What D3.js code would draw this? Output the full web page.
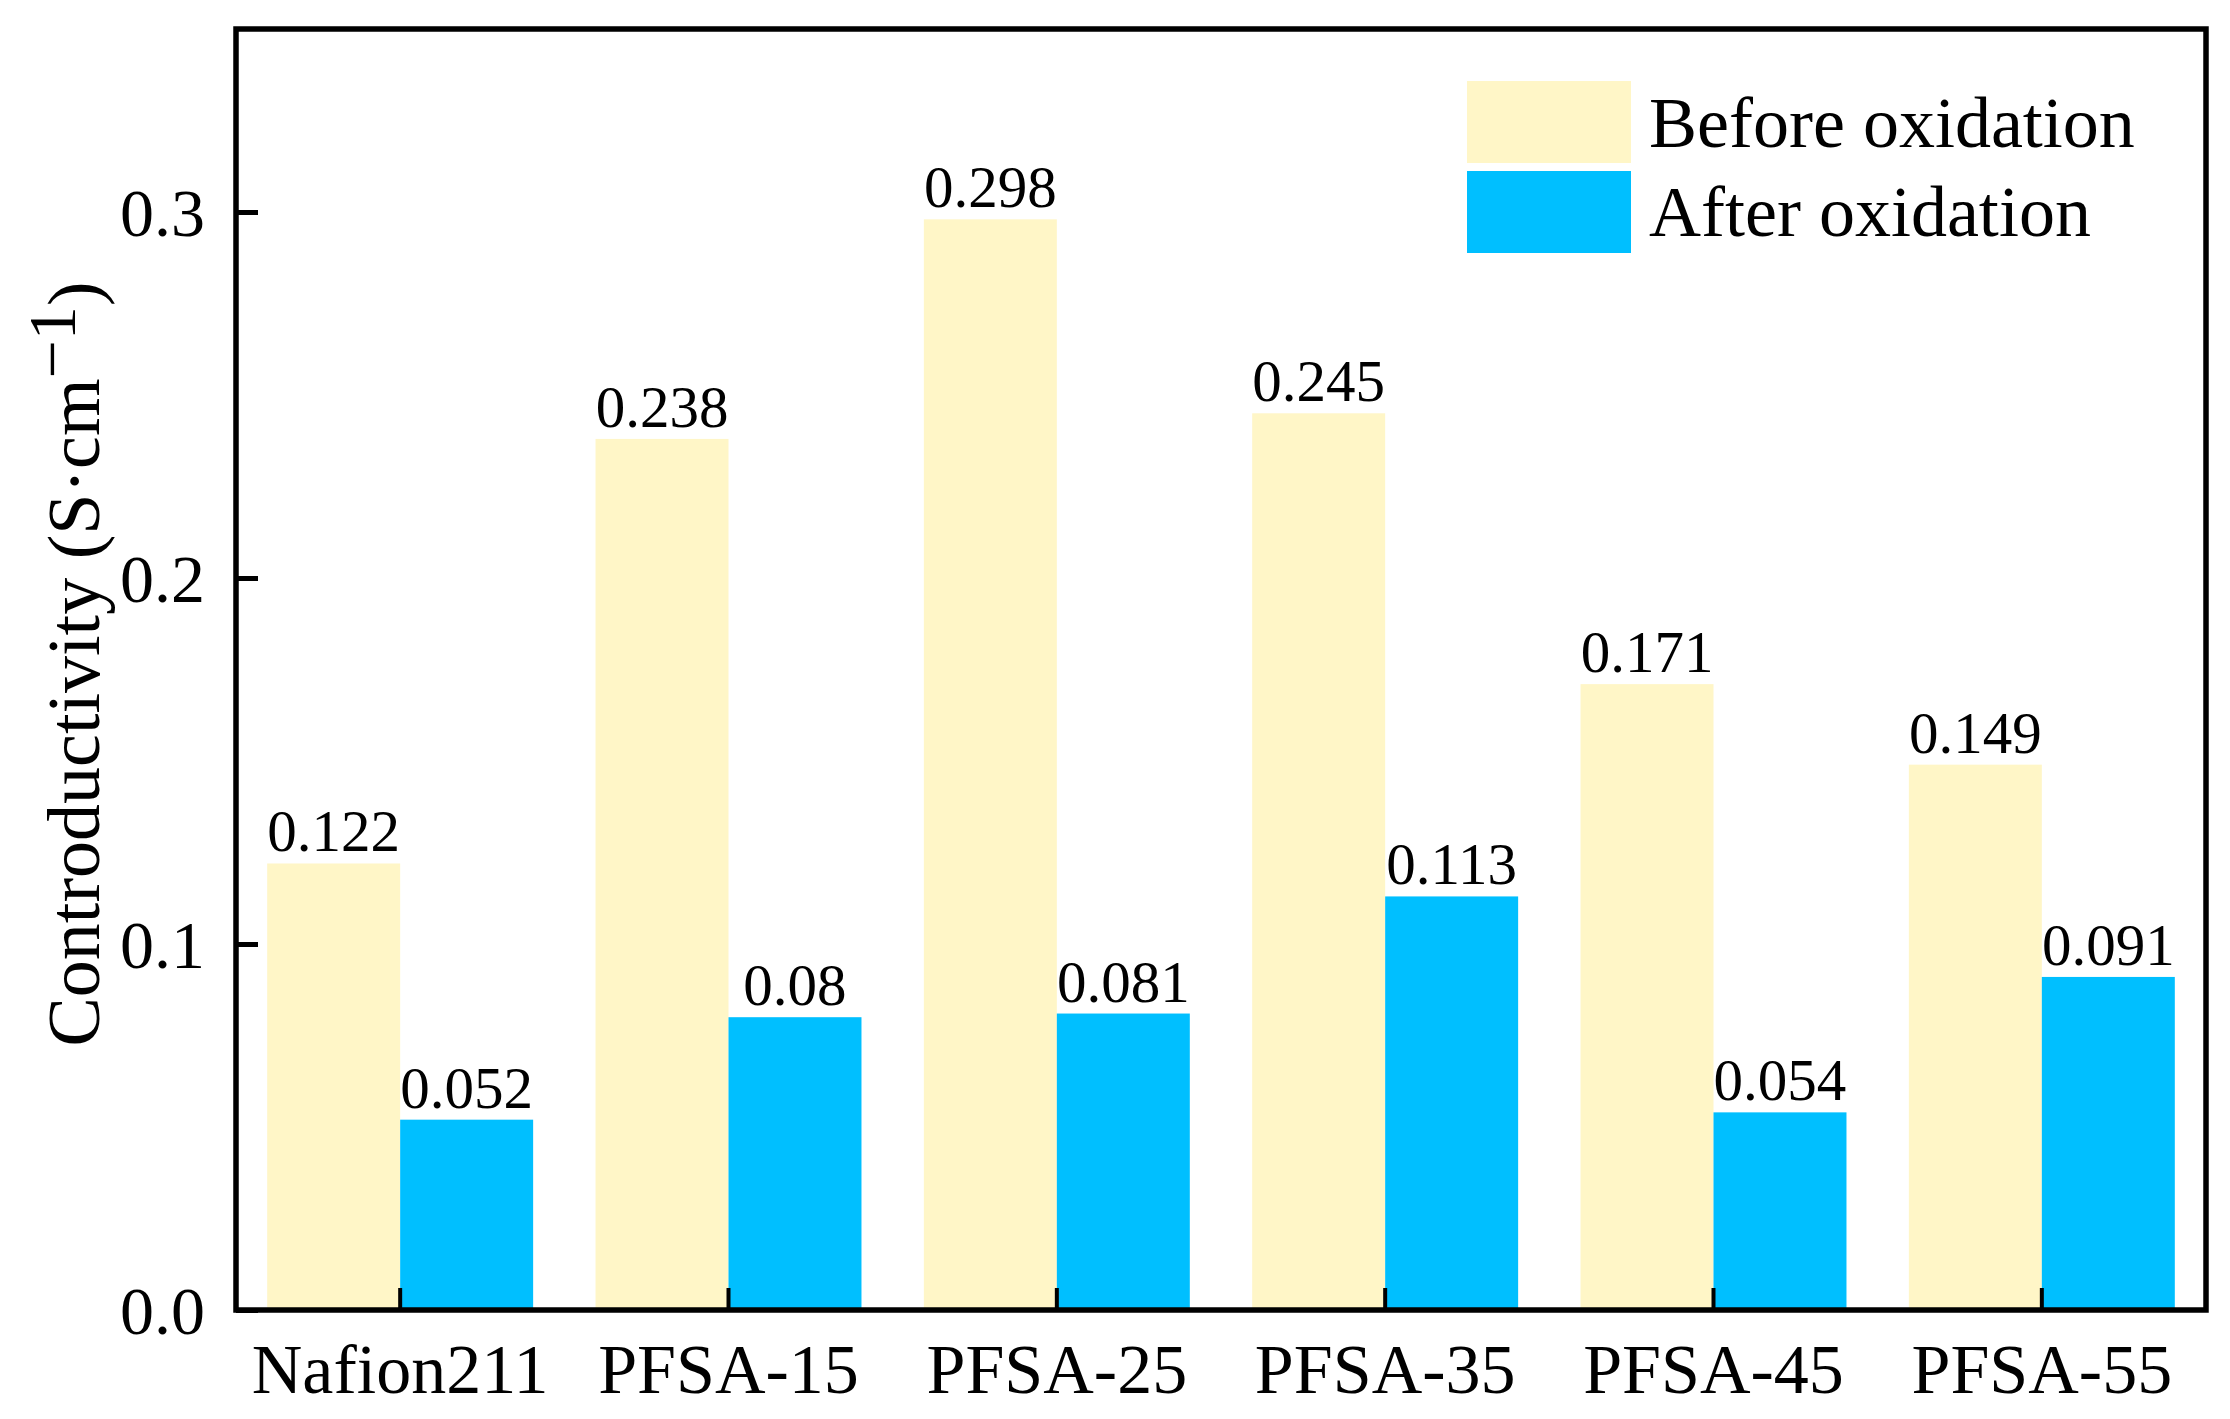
<!DOCTYPE html>
<html>
<head>
<meta charset="utf-8">
<script src="https://cdn.jsdelivr.net/npm/d3@7"></script>
<style>
  html, body { margin: 0; padding: 0; background: #fff; }
  text { font-family: "Liberation Serif", "Times New Roman", serif; fill: #000; }
</style>
</head>
<body>
<svg id="chart" width="2230" height="1419"></svg>
<script>
const categories = ["Nafion211", "PFSA-15", "PFSA-25", "PFSA-35", "PFSA-45", "PFSA-55"];
const beforeValues = [0.122, 0.238, 0.298, 0.245, 0.171, 0.149];
const afterValues = [0.052, 0.08, 0.081, 0.113, 0.054, 0.091];
const seriesNames = ["Before oxidation", "After oxidation"];
const yTicks = [0.0, 0.1, 0.2, 0.3];

const colors = ["#FFF6C7", "#00BFFF"];

const margin = { top: 29, right: 24, bottom: 109, left: 236 };
const width = 2230 - margin.left - margin.right;
const height = 1419 - margin.top - margin.bottom;

const svg = d3.select("#chart");
const g = svg.append("g")
  .attr("transform", "translate(" + margin.left + "," + margin.top + ")");

const x = d3.scaleBand()
  .domain(categories)
  .range([0, width])
  .padding(0);

const y = d3.scaleLinear()
  .domain([0, 0.35])
  .range([height, 0]);

const barW = x.bandwidth() * 0.405;

const rows = categories.map((c, i) => ({ cat: c, before: beforeValues[i], after: afterValues[i] }));

// bars
const series = [
  { key: "before", offset: -barW, color: colors[0] },
  { key: "after", offset: 0, color: colors[1] }
];

series.forEach(s => {
  g.selectAll("rect." + s.key)
    .data(rows)
    .enter()
    .append("rect")
    .attr("class", s.key)
    .attr("x", d => x(d.cat) + x.bandwidth() / 2 + s.offset)
    .attr("y", d => y(d[s.key]))
    .attr("width", barW)
    .attr("height", d => height - y(d[s.key]))
    .attr("fill", s.color);

  g.selectAll("text." + s.key)
    .data(rows)
    .enter()
    .append("text")
    .attr("class", s.key)
    .attr("x", d => x(d.cat) + x.bandwidth() / 2 + s.offset + barW / 2)
    .attr("y", d => y(d[s.key]) - 12)
    .attr("text-anchor", "middle")
    .attr("font-size", "59px")
    .text(d => String(d[s.key]));
});

// axes
const yAxisCall = d3.axisLeft(y)
  .tickValues(yTicks)
  .tickFormat(d3.format(".1f"))
  .tickSizeInner(-22)
  .tickSizeOuter(0)
  .tickPadding(31);

const yAxisGroup = g.append("g").attr("class", "y-axis").call(yAxisCall);
yAxisGroup.select(".domain").remove();
yAxisGroup.selectAll("line").attr("stroke", "#000").attr("stroke-width", 5);
yAxisGroup.selectAll("text")
  .attr("font-size", "68px")
  .attr("font-family", "Liberation Serif, Times New Roman, serif")
  .attr("dy", "0.34em");

const xAxisCall = d3.axisBottom(x)
  .tickSizeInner(-22)
  .tickSizeOuter(0)
  .tickPadding(33);

const xAxisGroup = g.append("g")
  .attr("class", "x-axis")
  .attr("transform", "translate(0," + height + ")")
  .call(xAxisCall);
xAxisGroup.select(".domain").remove();
xAxisGroup.selectAll("line").attr("stroke", "#000").attr("stroke-width", 4);
xAxisGroup.selectAll("text")
  .attr("font-size", "70px")
  .attr("font-family", "Liberation Serif, Times New Roman, serif");

// frame
g.append("rect")
  .attr("x", 0)
  .attr("y", 0)
  .attr("width", width)
  .attr("height", height)
  .attr("fill", "none")
  .attr("stroke", "#000")
  .attr("stroke-width", 5.5);

// Y label
const yLabel = svg.append("text")
  .attr("transform", "translate(99,664) rotate(-90)")
  .attr("text-anchor", "middle")
  .attr("font-size", "74px");
yLabel.append("tspan").text("Controductivity (S·cm");
yLabel.append("tspan").attr("font-size", "68px").attr("baseline-shift", "36%").text("\u22121");
yLabel.append("tspan").text(")");

// legend
const legend = svg.append("g").attr("transform", "translate(1467,81)");
seriesNames.forEach((name, i) => {
  legend.append("rect")
    .attr("x", 0)
    .attr("y", i * 90)
    .attr("width", 164)
    .attr("height", 82)
    .attr("fill", colors[i]);
  legend.append("text")
    .attr("x", 182)
    .attr("y", i * 89 + 66)
    .attr("font-size", "72px")
    .text(name);
});
</script>
</body>
</html>
